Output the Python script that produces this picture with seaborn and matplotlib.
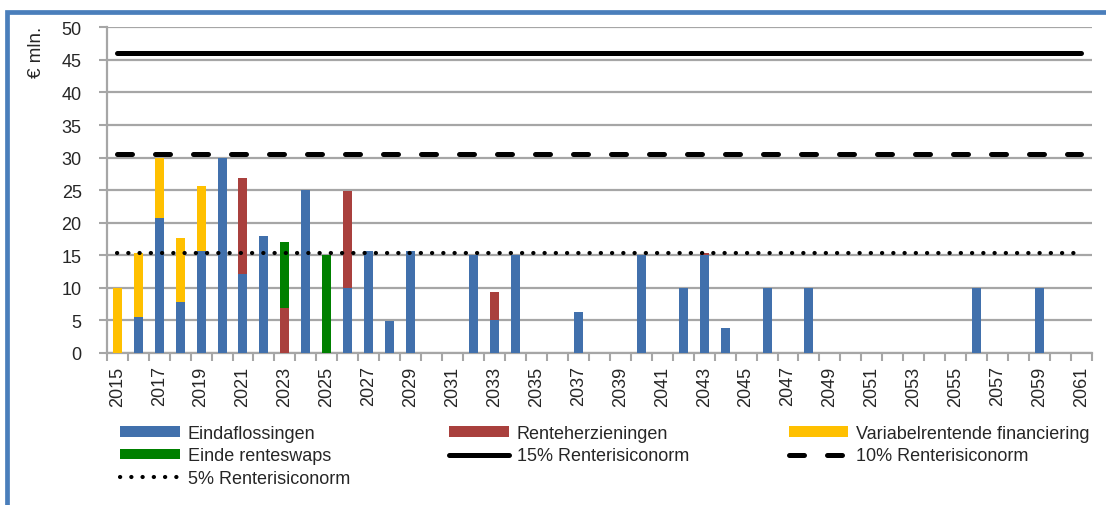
import numpy as np
import pandas as pd
import seaborn as sns
import matplotlib.pyplot as plt
from matplotlib.patches import Patch, Rectangle
from matplotlib.lines import Line2D

# ---- data (€ mln.) ----
years = [str(y) for y in range(2015, 2062)]

eindaflossingen = [0, 5.5, 20.7, 7.8, 15.7, 30, 12.1, 17.9, 0, 25.0,
                   0, 10.0, 15.6, 4.9, 15.6, 0, 0, 15.0, 5.0, 15.0,
                   0, 0, 6.3, 0, 0, 15.0, 0, 10.0, 15.0, 3.8,
                   0, 10.0, 0, 10.0, 0, 0, 0, 0, 0, 0,
                   0, 10.0, 0, 0, 10.0, 0, 0]
renteherzieningen = [0, 0, 0, 0, 0, 0, 14.8, 0, 6.9, 0,
                     0, 14.9, 0, 0, 0, 0, 0, 0, 4.4, 0,
                     0, 0, 0, 0, 0, 0, 0, 0, 0.3, 0,
                     0, 0, 0, 0, 0, 0, 0, 0, 0, 0,
                     0, 0, 0, 0, 0, 0, 0]
einde_renteswaps = [0, 0, 0, 0, 0, 0, 0, 0, 10.2, 0,
                    15.0, 0, 0, 0, 0, 0, 0, 0, 0, 0,
                    0, 0, 0, 0, 0, 0, 0, 0, 0, 0,
                    0, 0, 0, 0, 0, 0, 0, 0, 0, 0,
                    0, 0, 0, 0, 0, 0, 0]
variabelrentend = [10.0, 9.9, 9.2, 9.85, 10.0, 0, 0, 0, 0, 0,
                   0, 0, 0, 0, 0, 0, 0, 0, 0, 0,
                   0, 0, 0, 0, 0, 0, 0, 0, 0, 0,
                   0, 0, 0, 0, 0, 0, 0, 0, 0, 0,
                   0, 0, 0, 0, 0, 0, 0]

norm_15 = 46.0
norm_10 = 30.6
norm_5 = 15.35

labels = ["Eindaflossingen", "Renteherzieningen",
          "Variabelrentende financiering", "Einde renteswaps",
          "15% Renterisiconorm", "10% Renterisiconorm", "5% Renterisiconorm"]

c_blue = "#4170AC"
c_red = "#A9403D"
c_yellow = "#FFC000"
c_green = "#008000"
c_grid = "#A6A6A6"

# ---- stacked layers ----
df = pd.DataFrame({
    "year": years,
    "blue": eindaflossingen,
    "red": renteherzieningen,
    "green": einde_renteswaps,
    "yellow": variabelrentend,
})
df["c1"] = df["blue"]
df["c2"] = df["c1"] + df["red"]
df["c3"] = df["c2"] + df["green"]
df["c4"] = df["c3"] + df["yellow"]

sns.set_theme(style="white")
plt.rcParams["font.family"] = ["Liberation Sans", "DejaVu Sans"]

fig = plt.figure(figsize=(11.06, 5.06), dpi=100)
ax = fig.add_axes([0.0965, 0.3004, 0.8908, 0.6436])

bar_w = 0.43
for col, color in [("c4", c_yellow), ("c3", c_green), ("c2", c_red), ("c1", c_blue)]:
    sns.barplot(data=df, x="year", y=col, order=years, color=color,
                saturation=1, width=bar_w, ax=ax, linewidth=0, zorder=3)

# ---- norm lines ----
solid_lw, dash_lw, dot_lw = 3.6, 3.6, 3.0
dash_pat, dot_pat = (3.0, 4.6), (0.05, 2.65)

xs = np.arange(len(years))
sns.lineplot(x=xs, y=[norm_15] * len(years), ax=ax, color="black",
             linewidth=solid_lw, zorder=4)
sns.lineplot(x=xs, y=[norm_10] * len(years), ax=ax, color="black",
             linewidth=dash_lw, zorder=4)
ax.lines[-1].set_dashes(dash_pat)
ax.lines[-1].set_dash_capstyle("round")
sns.lineplot(x=xs, y=[norm_5] * len(years), ax=ax, color="black",
             linewidth=dot_lw, zorder=4)
ax.lines[-1].set_dashes(dot_pat)
ax.lines[-1].set_dash_capstyle("round")

# ---- axes styling ----
ax.set_xlim(-0.5, len(years) - 0.5)
ax.set_ylim(0, 50)
ax.set_yticks(np.arange(0, 51, 5))
ax.yaxis.grid(True, color=c_grid, linewidth=1.6, zorder=0)
ax.set_axisbelow(True)
for s in ["top", "right"]:
    ax.spines[s].set_visible(False)
for s in ["left", "bottom"]:
    ax.spines[s].set_color(c_grid)
    ax.spines[s].set_linewidth(1.6)

ax.set_xticks(xs[::2])
ax.set_xticklabels(years[::2], rotation=90, va="top", ha="center")
ax.set_xticks(np.arange(-0.5, len(years), 1), minor=True)
ax.tick_params(axis="x", which="major", length=0, pad=9, labelsize=13)
ax.tick_params(axis="x", which="minor", length=6, width=1.5, color=c_grid,
               direction="out", bottom=True)
ax.tick_params(axis="y", length=6, width=1.5, color=c_grid, pad=12,
               labelsize=13, left=True)
ax.set_xlabel("")
ax.set_ylabel("€ mln.", fontsize=13.5, loc="top")
ax.yaxis.set_label_coords(-0.063, 1.005)

# ---- legend ----
handles = [
    Patch(facecolor=c_blue, edgecolor="none"),
    Patch(facecolor=c_green, edgecolor="none"),
    Line2D([], [], color="black", linewidth=dot_lw, dashes=dot_pat,
           dash_capstyle="round"),
    Patch(facecolor=c_red, edgecolor="none"),
    Line2D([], [], color="black", linewidth=solid_lw),
    Patch(facecolor=c_yellow, edgecolor="none"),
    Line2D([], [], color="black", linewidth=dash_lw, dashes=dash_pat,
           dash_capstyle="round"),
]
leg_labels = [labels[0], labels[3], labels[6], labels[1], labels[4],
              labels[2], labels[5]]
fig.legend(handles, leg_labels, ncol=3, loc="upper left",
           bbox_to_anchor=(120 / 1106, 1 - 426 / 506), frameon=False,
           fontsize=13, handlelength=3.3, handleheight=0.5,
           handletextpad=0.45, columnspacing=5.5, labelspacing=0.3,
           borderpad=0, borderaxespad=0)

# ---- outer frame ----
fig.patches.append(Rectangle((7 / 1106, -0.05), 1.2, 1 - 12.5 / 506 + 0.05,
                             transform=fig.transFigure, fill=False,
                             edgecolor="#4A7EBB", linewidth=3.4))

fig.savefig("out.png", dpi=100)
